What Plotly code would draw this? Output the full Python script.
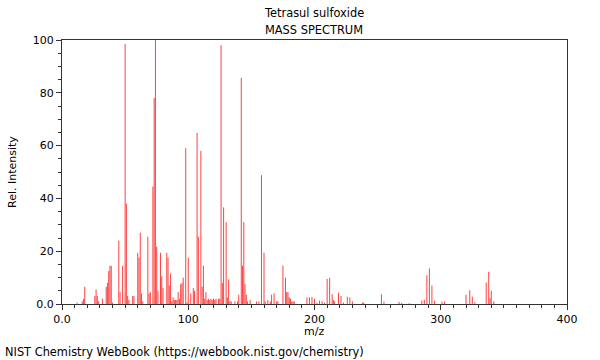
import plotly.graph_objects as go

mz = [12, 16, 17, 18, 26, 27, 28, 29, 32, 35, 36, 37, 38, 39, 40,
      45, 46, 48, 50, 51, 52, 53, 56, 57, 60, 61, 62, 63, 64,
      68, 69, 70, 72, 73, 74, 75, 76, 78, 79, 80, 83, 84, 85, 86, 87, 88,
      89, 90, 91, 92, 93, 94, 95, 96, 98, 99, 100, 102, 104, 105,
      107, 108, 110, 111, 112, 113, 114, 115, 116, 117, 118, 119, 120, 121, 122,
      124, 125, 126, 127, 128, 130, 131, 132, 133, 134, 137, 139, 140,
      142, 143, 144, 145, 146, 147, 149, 154, 156, 158, 160, 161, 163, 165,
      166, 168, 170, 171, 175, 177, 178, 179, 180, 181, 182, 183, 184,
      194, 196, 198, 200, 202, 204, 206, 208, 210, 212, 214, 215, 216,
      219, 221, 223, 226, 228, 230, 238, 239,
      253, 255, 267, 269, 275, 285, 287, 289, 291, 293, 295, 301, 303,
      320, 323, 325, 327, 336, 338, 339, 340, 342]
intensity = [0.5, 1, 2, 6.5, 3, 5.5, 3, 1, 2, 6.5, 8, 12.5, 14.5, 14.5, 0.5,
             24, 4.5, 14.5, 98.5, 38, 3, 1.5, 3, 3, 19.4, 17.5, 27, 4, 1,
             25.5, 4, 4.5, 44.5, 78, 100, 21.7, 5, 19.4, 10.5, 6, 19.4, 17.5, 7, 11.5, 1, 2.5,
             1.5, 1.5, 1.5, 4.5, 2, 7.5, 8, 10, 59, 0.5, 17.5, 4, 6, 5,
             64.8, 25.5, 58, 6.5, 14.5, 2, 4.5, 1.5, 2, 1.5, 2, 1.5, 2, 1.5, 2,
             2, 2, 98, 8, 36.6, 31, 2.5, 9.3, 1, 1, 1, 1, 3.5,
             85.7, 14.5, 31, 7.5, 3.5, 1, 1.5, 1, 1, 48.8, 19.4, 1, 1.5, 1,
             3.5, 4, 1, 1, 14.6, 10, 4.5, 4.5, 2.5, 2, 1, 1, 1,
             2.5, 2.5, 2.7, 2, 0.5, 1.3, 1, 0.5, 9.5, 9.9, 3.7, 1.5, 1,
             4.3, 3, 0.5, 2.7, 2.5, 1, 0.5, 0.5,
             3.7, 0.9, 0.8, 0.4, 0.3, 1.3, 1.6, 10.9, 13.5, 7, 1.3, 0.9, 0.9,
             3.5, 5.2, 2.8, 0.7, 8.1, 12.2, 2.2, 5, 1]

x_ticks = [0, 100, 200, 300, 400]
x_tick_labels = ["0.0", "100", "200", "300", "400"]
y_ticks = [0, 20, 40, 60, 80, 100]
y_tick_labels = ["0.0", "20", "40", "60", "80", "100"]

# stick spectrum: vertical segments built from the data arrays
xs, ys = [], []
for m, v in zip(mz, intensity):
    xs += [m, m, None]
    ys += [0, v, None]

fig = go.Figure()
fig.add_trace(go.Scatter(
    x=xs, y=ys, mode="lines",
    line=dict(color="rgba(255,0,0,0.75)", width=1),
    hoverinfo="skip",
))

font = dict(family="DejaVu Sans", size=11, color="#000")
tfont = dict(family="DejaVu Sans", size=11.4, color="#000")
L, R, T, B = 62, 33, 40, 56
W, H = 600, 360
pw, ph = W - L - R, H - T - B

def px(x):
    return (x - L) / pw

def py(y):
    return (H - B - y) / ph

fig.update_layout(
    width=W, height=H,
    margin=dict(l=L, r=R, t=T, b=B),
    paper_bgcolor="white", plot_bgcolor="white",
    font=font, showlegend=False,
    annotations=[
        dict(text="Tetrasul sulfoxide", x=px(314), y=py(13), xref="paper", yref="paper",
             showarrow=False, font=tfont, xanchor="center", yanchor="middle"),
        dict(text="MASS SPECTRUM", x=px(314), y=py(30), xref="paper", yref="paper",
             showarrow=False, font=tfont, xanchor="center", yanchor="middle"),
        dict(text="m/z", x=px(314), y=py(331), xref="paper", yref="paper",
             showarrow=False, font=font, xanchor="center", yanchor="middle"),
        dict(text="Rel. Intensity", x=px(12), y=py(172), xref="paper", yref="paper",
             showarrow=False, font=font, xanchor="center", yanchor="middle", textangle=-90),
        dict(text="NIST Chemistry WebBook (https://webbook.nist.gov/chemistry)",
             x=px(3), y=py(352), xref="paper", yref="paper",
             showarrow=False, font=tfont, xanchor="left", yanchor="middle"),
    ],
)

fig.update_xaxes(
    range=[0, 400], tickvals=x_ticks, ticktext=x_tick_labels,
    ticks="outside", ticklen=5, tickcolor="#333", tickwidth=1,
    showline=True, linecolor="#333", linewidth=1, mirror=True,
    showgrid=False, zeroline=False,
    minor=dict(dtick=10, ticks="outside", ticklen=3, tickcolor="#333", showgrid=False),
)
fig.update_yaxes(
    range=[0, 100], tickvals=y_ticks, ticktext=y_tick_labels,
    ticks="outside", ticklen=5, tickcolor="#333", tickwidth=1,
    showline=True, linecolor="#333", linewidth=1, mirror=True,
    showgrid=False, zeroline=False,
    minor=dict(dtick=5, ticks="outside", ticklen=3, tickcolor="#333", showgrid=False),
)

fig.write_html("out.html", config={"displayModeBar": False},
               post_script="document.body.style.margin='0';")
